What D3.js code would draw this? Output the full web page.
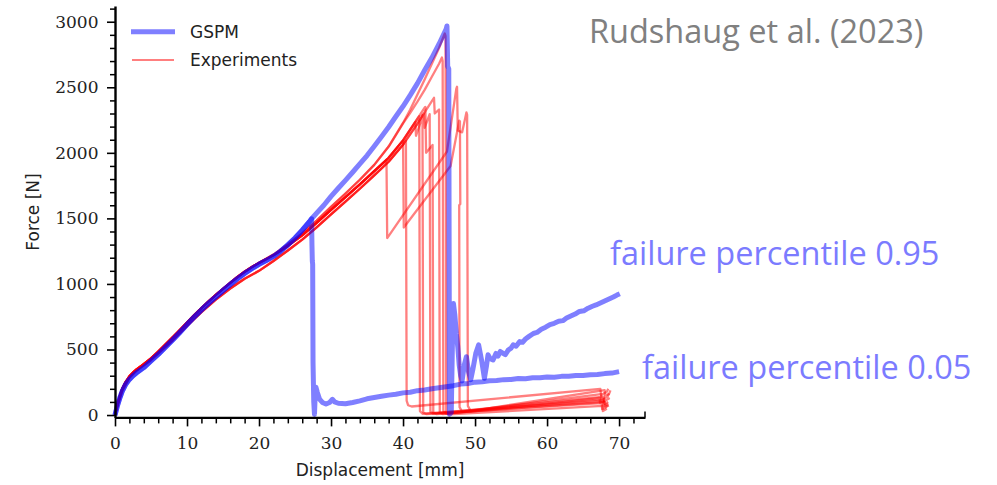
<!DOCTYPE html>
<html>
<head>
<meta charset="utf-8">
<script src="https://cdn.jsdelivr.net/npm/d3@7"></script>
<style>
  body { margin: 0; background: #fff; }
  svg { display: block; }
</style>
</head>
<body>
<div id="chart"></div>
<script>
// axis ticks
const xTicks = [0, 10, 20, 30, 40, 50, 60, 70];
const xMinorTicks = [2, 4, 6, 8, 12, 14, 16, 18, 22, 24, 26, 28, 32, 34, 36, 38, 42, 44, 46, 48, 52, 54, 56, 58, 62, 64, 66, 68, 72];
const yTicks = [0, 500, 1000, 1500, 2000, 2500, 3000];
const yMinorTicks = [100, 200, 300, 400, 600, 700, 800, 900, 1100, 1200, 1300, 1400, 1600, 1700, 1800, 1900,
  2100, 2200, 2300, 2400, 2600, 2700, 2800, 2900, 3100];

// GSPM simulation, [displacement mm, force N]
const gspmLoading = [[0, 0], [0.3, 65], [0.7, 135], [1, 180], [1.5, 235], [2, 272], [2.5, 300], [3, 322], [4, 362],
  [5, 412], [6, 462], [7, 517], [8, 572], [9, 630], [10, 690], [11, 747], [12, 802], [13, 854], [14, 902], [15, 950],
  [16, 996], [17, 1040], [18, 1080], [19, 1116], [20, 1150], [21, 1178], [22, 1210], [23, 1250], [24, 1298],
  [25, 1350], [26, 1410], [27, 1475], [27.3, 1497]];

const gspmLowTail = [[27.35, 1300], [27.4, 1175], [27.45, 1150], [27.5, 400], [27.6, 100], [27.7, 5], [27.8, 150],
  [27.9, 212], [28.1, 172], [28.4, 122], [28.8, 96], [29.3, 84], [29.8, 96], [30.2, 120], [30.5, 100], [31, 90],
  [32, 86], [33, 96], [34, 108], [35, 124], [36, 134], [37, 143], [38, 152], [39, 158], [40, 169], [41, 174],
  [42, 186], [43, 191], [44, 201], [45, 208], [46, 216], [47, 224], [48, 236], [49, 241], [50, 251], [51, 254],
  [52, 261], [53, 263], [54, 270], [55, 271], [56, 278], [57, 277], [58, 284], [59, 285], [60, 290], [61, 289],
  [62, 295], [63, 296], [64, 302], [65, 302], [66, 308], [67, 309], [68, 316], [69, 320], [70, 331]];

const gspmHighTail = [[28, 1540], [29, 1600], [30, 1668], [31, 1730], [32, 1790], [33, 1852], [34, 1915], [35, 1979],
  [36, 2050], [37, 2122], [38, 2197], [39, 2277], [40, 2355], [41, 2440], [42, 2530], [43, 2630], [44, 2725],
  [45, 2830], [46, 2945], [46.1, 2968], [46.2, 2660], [46.35, 2640], [46.45, 5], [46.7, 20], [46.9, 700],
  [47.0, 850], [47.2, 760], [47.4, 620], [47.6, 520], [47.8, 380], [48.0, 300], [48.2, 260], [48.5, 380],
  [48.8, 445], [49.1, 330], [49.4, 270], [49.7, 350], [50.1, 470], [50.5, 535], [50.9, 420], [51.3, 280],
  [51.6, 380], [51.8, 460], [52.1, 430], [52.5, 420], [52.9, 470], [53.2, 450], [53.5, 485], [53.9, 470],
  [54.2, 460], [54.6, 495], [55.0, 510], [55.3, 535], [55.7, 525], [56.2, 560], [56.6, 555], [57.0, 580],
  [57.5, 600], [58.1, 622], [58.6, 630], [59.2, 655], [59.8, 670], [60.4, 690], [61.0, 700], [61.6, 715],
  [62.2, 720], [62.7, 740], [63.3, 755], [63.9, 770], [64.5, 790], [65.1, 795], [65.7, 815], [66.3, 830],
  [66.8, 840], [67.4, 855], [68.0, 870], [68.6, 885], [69.2, 900], [69.7, 915], [70.1, 925]];

// experiments: three loading branches, then each specimen's failure path
const expLoadMid = [[0, 0], [0.3, 70], [0.7, 150], [1, 200], [1.5, 255], [2, 295], [2.5, 325], [3, 348], [4, 388],
  [5, 432], [6, 482], [7, 537], [8, 592], [9, 648], [10, 705], [11, 762], [12, 816], [13, 867], [14, 916], [15, 963],
  [16, 1009], [17, 1053], [18, 1093], [19, 1129], [20, 1160], [22, 1218], [24, 1290], [26, 1370], [28, 1465],
  [30, 1565], [32, 1662], [34, 1760], [36, 1860], [38, 1962], [40, 2095], [42, 2260], [43, 2345], [44, 2430]];
const expLoadLow = [[0, 0], [0.5, 100], [1, 185], [2, 285], [3, 340], [5, 420], [8, 570], [10, 680], [12, 785],
  [14, 880], [16, 965], [18, 1040], [20, 1100], [22, 1175], [24, 1255], [26, 1338], [28, 1432], [30, 1530],
  [32, 1628], [34, 1726], [36, 1828], [38, 1932], [40, 2062], [42, 2222], [44, 2395], [45, 2485]];
const expLoadHigh = [[0, 0], [0.3, 70], [0.7, 150], [1, 200], [2, 295], [3, 348], [5, 432], [8, 592], [10, 705],
  [12, 816], [14, 916], [16, 1009], [18, 1093], [20, 1162], [22, 1224], [24, 1302], [26, 1386], [28, 1484],
  [30, 1588], [32, 1690], [34, 1795], [36, 1908], [38, 2048], [40, 2228], [41, 2330], [42, 2445], [43, 2560],
  [44, 2680], [45, 2800]];

const exp1 = [[37.7, 1945], [37.8, 1350], [46.1, 2010], [47.4, 2490], [47.5, 2504], [47.6, 2170], [48.2, 2156],
  [48.8, 2308], [48.9, 2290], [49.0, 70], [49.4, 30], [68.0, 190], [68.05, 150], [68.6, 160], [68.8, 188]];
const exp2 = [[40.4, 2092], [40.5, 110], [40.7, 75], [41.2, 65], [67.4, 200], [67.5, 152], [68.3, 178], [68.5, 200]];
const exp3 = [[42.25, 2280], [42.35, 30], [42.7, 10], [67.8, 110], [67.85, 70], [68.5, 88]];
const exp4 = [[41.7, 2235], [41.8, 2130], [42.6, 2260], [42.7, 2290], [42.8, 20], [43.2, 8], [67.6, 92],
  [67.65, 45], [68.2, 60], [68.4, 80]];
const exp5 = [[42.9, 2300], [43.0, 2190], [43.7, 2295], [43.8, 25], [44.2, 10], [67.9, 140], [67.95, 105],
  [68.7, 130]];
const exp6 = [[43.1, 2350], [43.2, 2000], [44.1, 2060], [44.2, 20], [44.6, 8], [68.0, 100], [68.05, 65], [68.6, 72]];
const exp7 = [[45.8, 2910], [45.9, 2890], [46.0, 15], [46.4, 5], [67.7, 70], [67.75, 30], [68.3, 48]];
const exp8 = [[40.0, 2095], [40.1, 1430], [46.6, 1900], [47.8, 2245], [47.9, 2240], [47.95, 1610], [47.8, 1600],
  [47.85, 60], [48.2, 25], [67.5, 160], [67.55, 118], [68.4, 140], [68.6, 165]];
const exp9 = [[44.3, 2420], [44.4, 2300], [45.0, 2330], [45.1, 20], [45.5, 8], [67.9, 122], [67.95, 85], [68.5, 100]];
const exp10 = [[39, 2135], [40, 2225], [41, 2305], [42, 2390], [43, 2480], [44, 2580], [45, 2680], [45.4, 2727],
  [45.5, 2700], [45.6, 30], [46, 10], [67.3, 130], [67.35, 95], [68.0, 108]];

function joinPath(load, tail) {
  return load.filter(p => p[0] < tail[0][0]).concat(tail);
}

const experiments = [
  joinPath(expLoadMid, exp1), joinPath(expLoadLow, exp2), joinPath(expLoadMid, exp3),
  joinPath(expLoadMid, exp4), joinPath(expLoadLow, exp5), joinPath(expLoadMid, exp6),
  joinPath(expLoadHigh, exp7), joinPath(expLoadMid, exp8), joinPath(expLoadLow, exp9),
  joinPath(expLoadHigh, exp10)
];
const gspmRuns = [gspmLoading.concat(gspmLowTail), gspmLoading.concat(gspmHighTail)];

const width = 997, height = 485;
const blue = "rgba(0,0,255,0.5)";
const red = "rgba(255,0,0,0.5)";
const noteBlue = "#7b7bff";

let svg = d3.select("#chart").append("svg")
  .attr("width", width)
  .attr("height", height)
  .style("background", "#fff");

let x = d3.scaleLinear().domain([0, 73.6]).range([115, 645]);
let y = d3.scaleLinear().domain([-18, 3120]).range([417.4, 6]);

let line = d3.line().x(d => x(d[0])).y(d => y(d[1]));

// data lines
svg.append("g").selectAll("path")
  .data(experiments)
  .enter().append("path")
  .attr("d", line)
  .attr("fill", "none")
  .attr("stroke", red)
  .attr("stroke-width", 2.3)
  .attr("stroke-linejoin", "round");

svg.append("g").selectAll("path")
  .data(gspmRuns)
  .enter().append("path")
  .attr("d", line)
  .attr("fill", "none")
  .attr("stroke", blue)
  .attr("stroke-width", 5)
  .attr("stroke-linejoin", "round");

// axes
let xAxisY = y(-18);
svg.append("g")
  .attr("transform", `translate(0,${xAxisY})`)
  .call(d3.axisBottom(x).tickValues(xMinorTicks).tickSize(6).tickFormat(""))
  .call(g => g.select(".domain").remove())
  .selectAll(".tick line").attr("stroke", "#000").attr("stroke-width", 1.5);

let xAxis = svg.append("g")
  .attr("transform", `translate(0,${xAxisY})`)
  .call(d3.axisBottom(x).tickValues(xTicks).tickSize(9).tickSizeOuter(0).tickPadding(11).tickFormat(d3.format("d")));

svg.append("g")
  .attr("transform", `translate(${x(0)},0)`)
  .call(d3.axisLeft(y).tickValues(yMinorTicks).tickSize(5).tickFormat(""))
  .call(g => g.select(".domain").remove())
  .selectAll(".tick line").attr("stroke", "#000").attr("stroke-width", 1.5);

let yAxis = svg.append("g")
  .attr("transform", `translate(${x(0)},0)`)
  .call(d3.axisLeft(y).tickValues(yTicks).tickSize(8).tickSizeOuter(0).tickPadding(8.5).tickFormat(d3.format("d")));

[xAxis, yAxis].forEach(ax => {
  ax.select(".domain").attr("stroke", "#000").attr("stroke-width", 2.4);
  ax.selectAll(".tick line").attr("stroke", "#000").attr("stroke-width", 1.6);
  ax.selectAll(".tick text")
    .attr("fill", "#222")
    .style("font-family", "'DejaVu Serif', serif")
    .style("font-size", "17px");
});

// little cap at the right end of the x spine
svg.append("line")
  .attr("x1", x(73.6)).attr("x2", x(73.6))
  .attr("y1", xAxisY - 6).attr("y2", xAxisY)
  .attr("stroke", "#000").attr("stroke-width", 1.5);

// axis labels
svg.append("text")
  .attr("x", 380).attr("y", 476)
  .attr("text-anchor", "middle")
  .style("font-family", "'DejaVu Sans', sans-serif")
  .style("font-size", "17px")
  .attr("fill", "#222")
  .text("Displacement [mm]");

svg.append("text")
  .attr("transform", "translate(39,212) rotate(-90)")
  .attr("text-anchor", "middle")
  .style("font-family", "'DejaVu Sans', sans-serif")
  .style("font-size", "17px")
  .attr("fill", "#222")
  .text("Force [N]");

// legend
let legend = svg.append("g");
legend.append("line")
  .attr("x1", 131).attr("x2", 175).attr("y1", 31.7).attr("y2", 31.7)
  .attr("stroke", blue).attr("stroke-width", 5);
legend.append("line")
  .attr("x1", 132).attr("x2", 174).attr("y1", 60).attr("y2", 60)
  .attr("stroke", red).attr("stroke-width", 2);
legend.append("text")
  .attr("x", 190).attr("y", 38)
  .style("font-family", "'DejaVu Sans', sans-serif")
  .style("font-size", "17px")
  .attr("fill", "#222")
  .text("GSPM");
legend.append("text")
  .attr("x", 190).attr("y", 66)
  .style("font-family", "'DejaVu Sans', sans-serif")
  .style("font-size", "17px")
  .attr("fill", "#222")
  .text("Experiments");

// annotations
svg.append("text")
  .attr("x", 589).attr("y", 43)
  .style("font-family", "'Open Sans', sans-serif")
  .style("font-size", "32.5px")
  .attr("fill", "#808080")
  .text("Rudshaug et al. (2023)");

svg.append("text")
  .attr("x", 610).attr("y", 265)
  .style("font-family", "'Open Sans', sans-serif")
  .style("font-size", "32.5px")
  .attr("fill", noteBlue)
  .text("failure percentile 0.95");

svg.append("text")
  .attr("x", 642).attr("y", 379)
  .style("font-family", "'Open Sans', sans-serif")
  .style("font-size", "32.5px")
  .attr("fill", noteBlue)
  .text("failure percentile 0.05");
</script>
</body>
</html>
